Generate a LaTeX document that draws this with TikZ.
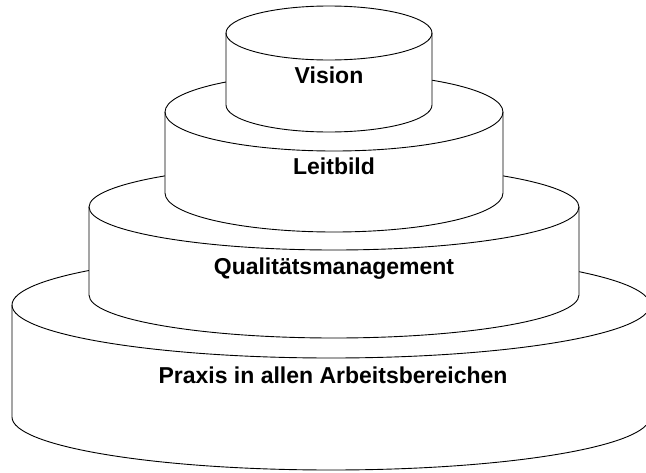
\documentclass[tikz,border=0pt]{standalone}
\usepackage{fontspec}
\setmainfont{Liberation Sans}
\tikzset{
  tier/.style={draw=black, fill=white, line width=0.9pt},
  tierlabel/.style={anchor=base, font=\fontsize{23}{26}\selectfont\bfseries, text=black, inner sep=0pt}
}
% \tiercyl{cx}{rx}{ry}{top}{bottom}
\newcommand{\tiercyl}[5]{%
  \path[tier] (#1-#2,-#4) -- (#1-#2,-#5)
    arc[start angle=180, end angle=360, x radius=#2, y radius=#3]
    -- (#1+#2,-#4)
    arc[start angle=0, end angle=180, x radius=#2, y radius=#3] -- cycle;
  \draw[tier, fill=none] (#1-#2,-#4)
    arc[start angle=180, end angle=360, x radius=#2, y radius=#3];
}
\begin{document}
\begin{tikzpicture}[x=1pt,y=1pt]
\useasboundingbox (0,0) rectangle (646,-472);
\clip (0,0) rectangle (646,-472);
\tiercyl{331}{319}{53}{305}{417}
\tiercyl{334}{245}{43}{207}{295}
\tiercyl{334}{169}{39}{112}{193}
\tiercyl{329}{103}{27}{33}{105}
\node[tierlabel] (vision) at (329,-83) {Vision};
\node[tierlabel] (leitbild) at (334,-174) {Leitbild};
\node[tierlabel] (qm) at (334,-274) {Qualitätsmanagement};
\node[tierlabel] (praxis) at (333,-383) {Praxis in allen Arbeitsbereichen};
\end{tikzpicture}
\end{document}
